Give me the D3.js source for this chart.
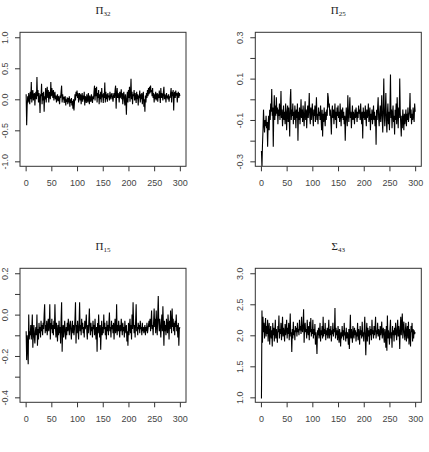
<!DOCTYPE html>
<html>
<head>
<meta charset="utf-8">
<script src="https://cdn.jsdelivr.net/npm/d3@7"></script>
<style>
  body { margin: 0; background: #fff; }
  .trace text { font-family: "Liberation Sans", Arial, sans-serif; font-size: 9px; fill: #444; }
  .trace .tick line { stroke: #333; }
  .title { font-family: "Liberation Serif", "Times New Roman", serif; fill: #222; }
</style>
</head>
<body>
<div id="chart"></div>
<script>

//-- Data: MCMC draws, iterations 1..300
var iterations = d3.range(1, 301);

var pi32 = [
  0.08, -0.42, -0.1, 0.05, -0.05, 0.1, 0.02, -0.08, 0.12, 0.0,
  0.28, -0.05, 0.08, 0.15, -0.02, 0.05, 0.1, -0.1, 0.06, 0.12,
  0.0, 0.36, 0.05, 0.15, -0.05, 0.1, 0.02, -0.22, 0.08, 0.05,
  0.25, -0.08, 0.1, -0.02, 0.12, -0.2, 0.05, 0.0, 0.18, -0.05,
  0.1, 0.2, 0.02, 0.15, -0.05, 0.12, 0.08, 0.0, 0.28, 0.05,
  0.18, 0.1, 0.02, 0.15, -0.02, 0.08, 0.12, 0.0, 0.06, -0.05,
  0.03, 0.08, -0.03, 0.05, 0.0, -0.08, 0.06, 0.02, 0.12, 0.22,
  -0.05, 0.08, 0.0, 0.04, -0.06, 0.02, 0.05, -0.1, 0.0, -0.04,
  0.03, -0.08, 0.02, -0.05, 0.05, -0.12, 0.0, -0.06, 0.02, -0.1,
  -0.03, -0.15, 0.0, -0.18, -0.05, 0.08, -0.02, 0.12, 0.05, 0.14,
  0.02, 0.1, -0.05, 0.06, 0.1, -0.02, 0.08, -0.08, 0.04, 0.1,
  -0.04, 0.06, 0.0, 0.12, -0.1, 0.05, 0.02, -0.06, 0.08, 0.0,
  -0.05, 0.1, 0.02, -0.08, 0.06, 0.0, -0.04, 0.08, 0.02, -0.06,
  0.05, 0.0, 0.12, 0.22, -0.02, 0.18, 0.05, 0.2, -0.05, 0.1,
  0.02, 0.15, -0.08, 0.08, 0.0, 0.12, -0.05, 0.18, 0.03, 0.08,
  -0.06, 0.1, 0.02, 0.27, -0.05, 0.12, 0.0, 0.08, -0.04, 0.1,
  0.03, 0.06, -0.02, 0.12, 0.05, 0.0, 0.08, 0.1, 0.02, -0.04,
  0.06, 0.1, 0.02, 0.15, 0.22, -0.15, 0.08, 0.18, 0.02, 0.1,
  0.05, -0.05, 0.12, 0.02, 0.08, 0.16, 0.0, 0.1, -0.08, 0.06,
  0.12, 0.0, -0.1, 0.08, -0.02, -0.25, 0.05, 0.12, -0.05, 0.15,
  0.02, 0.2, -0.04, 0.1, 0.33, 0.0, 0.12, -0.08, 0.08, 0.05,
  0.15, -0.02, 0.1, 0.04, -0.06, 0.12, 0.0, 0.08, -0.1, 0.06,
  0.02, 0.14, -0.05, 0.08, 0.0, 0.1, -0.08, 0.05, 0.12, -0.12,
  0.0, -0.2, 0.06, -0.05, 0.1, 0.02, 0.15, 0.05, 0.18, 0.08,
  0.2, 0.1, 0.22, 0.12, 0.15, 0.05, 0.18, 0.02, 0.1, -0.05,
  0.08, 0.0, 0.12, -0.02, 0.06, 0.1, -0.04, 0.08, 0.02, 0.14,
  0.05, -0.06, 0.18, 0.02, 0.1, 0.06, -0.02, 0.12, 0.2, 0.0,
  0.08, 0.04, -0.05, 0.1, 0.02, 0.06, 0.0, 0.08, -0.04, 0.05,
  0.02, 0.1, 0.18, -0.05, 0.12, 0.05, 0.15, -0.18, 0.08, 0.12,
  0.02, 0.14, 0.06, 0.1, -0.05, 0.08, 0.12, 0.02, 0.1, 0.05
];

var pi25 = [
  -0.25, -0.33, -0.22, -0.15, -0.05, -0.12, -0.16, -0.1, -0.13, -0.08,
  -0.14, -0.11, -0.23, -0.12, -0.08, -0.15, -0.05, -0.1, -0.02, -0.06,
  0.05, -0.08, -0.04, -0.23, -0.06, 0.02, -0.1, -0.03, -0.08, 0.01,
  -0.07, -0.04, -0.12, -0.05, -0.08, -0.02, -0.1, -0.06, 0.04, -0.09,
  -0.05, -0.13, -0.08, -0.03, -0.1, -0.06, -0.12, -0.02, -0.07, -0.15,
  -0.06, -0.03, -0.11, -0.04, -0.09, -0.18, 0.0, 0.05, -0.1, -0.05,
  -0.08, -0.02, -0.12, -0.06, -0.1, -0.03, -0.07, -0.14, -0.05, -0.09,
  -0.02, -0.2, -0.06, -0.1, -0.04, -0.12, -0.07, 0.0, -0.09, -0.05,
  -0.11, -0.03, -0.08, -0.13, -0.06, -0.01, -0.1, -0.05, -0.14, -0.07,
  -0.03, -0.09, -0.05, 0.03, -0.08, -0.12, -0.04, -0.1, -0.06, -0.02,
  -0.09, -0.13, -0.05, -0.08, -0.03, -0.11, -0.06, 0.01, -0.1, -0.07,
  -0.12, -0.04, -0.08, -0.06, -0.1, -0.03, -0.09, -0.15, -0.05, -0.18,
  -0.07, -0.11, -0.04, -0.09, -0.13, -0.06, -0.1, -0.05, -0.08, 0.03,
  0.01, -0.04, -0.02, -0.08, -0.05, -0.1, -0.17, -0.06, -0.03, -0.09,
  -0.05, -0.12, -0.07, -0.02, -0.1, -0.06, -0.14, -0.04, -0.08, -0.03,
  -0.09, -0.06, -0.11, -0.02, -0.07, -0.13, -0.05, -0.09, -0.04, -0.1,
  -0.06, -0.12, -0.08, -0.2, -0.1, -0.04, -0.09, -0.13, 0.02, -0.07,
  -0.11, -0.05, 0.01, -0.09, -0.06, -0.14, -0.08, -0.03, -0.1, -0.06,
  -0.08, -0.12, -0.05, -0.09, -0.04, -0.07, -0.11, -0.06, -0.09, -0.03,
  -0.07, -0.05, -0.1, -0.02, -0.08, -0.12, -0.06, -0.19, -0.04, -0.09,
  -0.06, -0.1, -0.03, -0.08, -0.13, -0.05, -0.09, -0.07, -0.02, -0.11,
  -0.08, -0.04, -0.15, -0.07, -0.1, -0.05, -0.12, -0.08, -0.03, -0.1,
  -0.06, -0.13, -0.08, -0.22, -0.05, -0.1, -0.04, 0.01, -0.09, -0.13,
  -0.07, -0.03, -0.11, -0.06, 0.02, -0.1, -0.16, -0.04, 0.1, -0.08,
  -0.13, -0.05, 0.03, -0.1, -0.16, -0.07, -0.02, -0.12, -0.06, -0.15,
  -0.04, 0.12, -0.09, -0.05, -0.14, -0.07, -0.03, -0.11, -0.08, -0.17,
  -0.05, -0.1, -0.02, -0.12, 0.01, -0.07, -0.14, -0.04, -0.09, 0.1,
  -0.06, -0.12, -0.18, -0.08, -0.14, -0.05, -0.1, -0.15, -0.07, -0.12,
  -0.09, -0.05, -0.13, -0.07, -0.1, -0.04, -0.11, -0.08, -0.06, 0.03,
  -0.09, -0.05, -0.12, -0.07, -0.1, -0.04, -0.08, -0.11, -0.02, -0.06
];

var pi15 = [
  -0.08, -0.22, -0.1, -0.15, -0.24, 0.0, -0.12, -0.08, -0.1, -0.05,
  -0.12, -0.07, 0.0, -0.16, -0.09, -0.05, -0.11, -0.14, -0.08, -0.06,
  -0.1, 0.0, -0.15, -0.07, -0.12, -0.04, -0.09, -0.06, -0.11, -0.03,
  -0.08, -0.05, -0.1, -0.04, -0.07, 0.0, 0.05, -0.09, -0.05, -0.08,
  -0.03, -0.1, -0.06, -0.02, -0.08, -0.05, 0.05, -0.12, -0.04, -0.07,
  -0.02, -0.09, -0.05, -0.1, -0.03, -0.07, 0.05, -0.06, -0.11, -0.04,
  -0.08, -0.13, -0.05, -0.1, -0.03, -0.09, -0.06, -0.14, -0.02, 0.06,
  -0.18, -0.08, -0.05, -0.11, -0.07, -0.03, -0.09, -0.12, -0.06, -0.1,
  -0.04, -0.08, -0.02, -0.06, -0.1, -0.05, -0.03, -0.08, -0.12, -0.06,
  -0.03, -0.09, -0.05, -0.1, -0.07, -0.02, 0.06, -0.14, -0.05, -0.09,
  -0.03, -0.07, -0.12, -0.04, 0.06, -0.08, -0.05, -0.1, -0.02, -0.07,
  -0.04, -0.09, -0.06, -0.11, -0.03, -0.07, -0.05, 0.0, -0.08, -0.12,
  -0.05, -0.09, -0.03, 0.03, -0.07, -0.1, -0.04, -0.08, -0.06, -0.11,
  -0.03, -0.07, -0.05, -0.1, -0.02, -0.08, -0.12, -0.06, -0.18, -0.04,
  -0.09, 0.0, -0.07, -0.11, -0.05, -0.17, -0.08, -0.03, -0.1, -0.06,
  -0.09, 0.0, -0.07, -0.04, -0.1, -0.06, -0.12, -0.03, -0.08, -0.05,
  -0.1, -0.04, 0.01, -0.08, -0.06, -0.11, -0.03, -0.07, -0.05, -0.09,
  -0.04, -0.12, -0.06, -0.02, -0.09, -0.07, 0.05, -0.1, -0.05, -0.08,
  -0.03, -0.07, -0.11, -0.05, -0.08, -0.02, -0.06, -0.1, -0.04, -0.08,
  -0.06, -0.11, -0.03, -0.07, -0.09, -0.05, -0.13, -0.08, -0.15, -0.04,
  -0.1, -0.06, -0.02, -0.09, -0.05, -0.12, 0.0, -0.07, 0.06, -0.04,
  -0.09, -0.05, -0.11, -0.03, 0.05, -0.08, -0.06, -0.1, -0.04, -0.07,
  -0.05, -0.09, -0.03, -0.07, -0.06, -0.1, -0.04, -0.08, -0.06, -0.09,
  -0.07, -0.05, -0.1, -0.06, -0.08, -0.04, -0.09, -0.07, -0.05, -0.03,
  -0.06, -0.02, -0.08, -0.04, 0.02, -0.07, -0.05, -0.1, -0.03, 0.03,
  -0.06, -0.02, -0.09, 0.02, -0.05, -0.1, 0.0, 0.09, -0.04, -0.08,
  -0.02, -0.07, -0.11, -0.04, 0.0, -0.08, 0.04, -0.05, -0.15, -0.03,
  -0.08, -0.05, -0.1, -0.02, -0.06, -0.09, 0.0, -0.05, -0.12, -0.03,
  -0.07, 0.02, -0.04, -0.09, 0.03, -0.06, -0.02, -0.08, -0.04, -0.1,
  -0.03, -0.06, 0.0, -0.08, -0.05, -0.11, -0.04, -0.15, -0.07, -0.06
];

var sigma43 = [
  0.98, 2.4, 1.88, 2.3, 2.05, 2.2, 1.95, 2.1, 2.28, 1.98,
  2.15, 2.02, 2.25, 1.9, 2.1, 2.2, 1.85, 2.05, 2.15, 1.95,
  2.08, 1.82, 2.2, 2.0, 2.12, 1.9, 2.05, 2.25, 1.95, 2.1,
  2.0, 1.88, 2.15, 2.05, 2.32, 1.95, 2.1, 2.02, 2.2, 1.92,
  2.08, 2.3, 1.98, 2.12, 2.05, 1.9, 2.18, 2.0, 2.1, 2.25,
  1.95, 2.12, 2.02, 2.2, 1.92, 2.08, 2.35, 1.98, 2.05, 1.73,
  2.1, 1.95, 2.22, 2.0, 2.08, 1.92, 2.15, 2.05, 2.12, 1.98,
  2.2, 2.05, 2.1, 2.0, 2.25, 2.08, 2.15, 2.02, 2.3, 2.1,
  2.05, 2.18, 2.42, 1.88, 2.12, 2.2, 2.05, 2.1, 1.95, 2.25,
  2.08, 2.0, 2.15, 1.92, 2.22, 2.05, 2.28, 1.98, 2.1, 2.02,
  2.25, 1.95, 2.1, 2.0, 2.18, 1.85, 2.05, 1.92, 1.7, 2.08,
  2.0, 2.12, 1.95, 2.05, 2.2, 1.9, 2.08, 2.0, 2.15, 1.95,
  2.3, 1.98, 2.1, 2.02, 2.2, 1.92, 2.08, 2.0, 2.12, 1.95,
  2.05, 2.25, 1.95, 2.1, 2.0, 2.15, 1.9, 2.08, 2.02, 2.2,
  1.98, 2.1, 2.05, 2.44, 1.95, 2.12, 2.0, 2.08, 1.92, 2.15,
  2.02, 1.88, 2.1, 2.0, 1.82, 2.05, 1.95, 2.15, 1.98, 2.08,
  1.92, 2.2, 2.0, 2.05, 1.9, 2.12, 1.95, 2.05, 2.0, 1.85,
  2.1, 1.78, 2.05, 2.33, 1.95, 2.1, 2.0, 1.88, 2.15, 2.02,
  1.95, 2.12, 2.0, 2.08, 1.9, 2.05, 1.98, 2.2, 1.92, 2.1,
  2.02, 1.85, 2.15, 2.0, 2.08, 1.95, 2.22, 1.98, 2.05, 1.9,
  2.1, 2.3, 1.95, 1.68, 2.05, 2.2, 1.9, 2.12, 1.98, 2.08,
  1.85, 2.15, 2.0, 2.1, 1.92, 2.25, 2.02, 2.08, 1.95, 2.15,
  2.0, 2.12, 2.3, 1.95, 2.08, 2.02, 2.2, 1.98, 2.1, 2.05,
  1.92, 2.15, 2.0, 2.08, 2.22, 1.95, 2.05, 2.12, 1.98, 1.88,
  2.1, 2.02, 1.8, 2.15, 1.75, 2.32, 1.95, 2.08, 2.0, 1.85,
  2.1, 2.25, 1.95, 2.05, 1.8, 2.15, 2.0, 2.08, 1.9, 2.12,
  2.0, 2.2, 2.05, 1.92, 2.1, 2.25, 1.98, 2.15, 2.05, 1.78,
  2.12, 2.3, 2.0, 2.18, 2.35, 1.95, 2.1, 2.22, 2.02, 1.92,
  2.08, 2.2, 1.9, 2.05, 2.15, 1.95, 2.22, 1.85, 2.1, 2.0,
  1.82, 2.15, 2.05, 2.2, 1.9, 2.1, 1.95, 2.08, 2.02, 2.05
];

//-- Tick values and labels
var xTicks = [0, 50, 100, 150, 200, 250, 300];
var yTicks32 = [-1, -0.5, 0, 0.5, 1];
var yLabels32 = [-1, -0.5, 0, 0.5, 1];
var yTicks25 = [-0.3, -0.2, -0.1, 0, 0.1, 0.2, 0.3];
var yLabels25 = [-0.3, -0.1, 0.1, 0.3];
var yTicks15 = [-0.4, -0.3, -0.2, -0.1, 0, 0.1, 0.2];
var yLabels15 = [-0.4, -0.2, 0, 0.2];
var yTicks43 = [1, 1.5, 2, 2.5, 3];
var yLabels43 = [1, 1.5, 2, 2.5, 3];

//-- Titles: symbol + subscript
var titleSymbols = ["\u03A0", "\u03A0", "\u03A0", "\u03A3"];
var titleSubs = ["32", "25", "15", "43"];

//-- Panel table built from the arrays above
var panels = [
  {values: pi32, ticks: yTicks32, labels: yLabels32, col: 0, row: 0},
  {values: pi25, ticks: yTicks25, labels: yLabels25, col: 1, row: 0},
  {values: pi15, ticks: yTicks15, labels: yLabels15, col: 0, row: 1},
  {values: sigma43, ticks: yTicks43, labels: yLabels43, col: 1, row: 1}
];

//-- Dimension & layout
var totWidth = 429, totHeight = 452;
var width = 166, height = 134;
var colLeft = [20, 255.3];
var rowTop = [32.3, 268.3];

var svg = d3.select("#chart")
  .append("svg")
    .attr("width", totWidth)
    .attr("height", totHeight);

var fmt = function(d) { return d.toFixed(1); };

panels.forEach(function(p, k) {
  var g = svg.append("g")
    .attr("transform", "translate(" + colLeft[p.col] + "," + rowTop[p.row] + ")");

  //-- R style axes: 4% padding around the data range
  var xPad = 0.04 * (iterations[iterations.length - 1] - iterations[0]);
  var x = d3.scaleLinear()
    .domain([iterations[0] - xPad, iterations[iterations.length - 1] + xPad])
    .range([0, width]);

  var lo = d3.min(p.ticks), hi = d3.max(p.ticks);
  var yPad = 0.04 * (hi - lo);
  var y = d3.scaleLinear()
    .domain([lo - yPad, hi + yPad])
    .range([height, 0]);

  //-- Trace clipped to the plot box
  g.append("clipPath")
    .attr("id", "clip" + k)
    .append("rect")
      .attr("width", width)
      .attr("height", height);

  var line = d3.line()
    .x(function(d, i) { return x(iterations[i]); })
    .y(function(d) { return y(d); });

  g.append("path")
    .datum(p.values)
    .attr("clip-path", "url(#clip" + k + ")")
    .attr("fill", "none")
    .attr("stroke", "#000")
    .attr("stroke-width", 1.1)
    .attr("stroke-linejoin", "miter")
    .attr("d", line);

  //-- x axis
  var xAxis = d3.axisBottom(x)
    .tickValues(xTicks)
    .tickSize(5)
    .tickPadding(8)
    .tickFormat(function(d) { return d; });

  var xg = g.append("g")
    .attr("class", "trace")
    .attr("transform", "translate(0," + height + ")")
    .call(xAxis);
  xg.select(".domain").remove();

  //-- y axis, rotated labels
  var yAxis = d3.axisLeft(y)
    .tickValues(p.ticks)
    .tickSize(5)
    .tickFormat(function(d) {
      return p.labels.some(function(v) { return Math.abs(v - d) < 1e-9; }) ? fmt(d) : "";
    });

  var yg = g.append("g")
    .attr("class", "trace")
    .call(yAxis);
  yg.select(".domain").remove();
  yg.selectAll("text")
    .attr("x", 0)
    .attr("dy", 0)
    .attr("text-anchor", "middle")
    .attr("transform", "translate(-12.5,0) rotate(-90)");

  //-- Box
  g.append("rect")
    .attr("width", width)
    .attr("height", height)
    .attr("fill", "none")
    .attr("stroke", "#333")
    .attr("stroke-width", 1);

  //-- Title
  var t = g.append("text")
    .attr("class", "title")
    .attr("x", width / 2)
    .attr("y", -18.5)
    .attr("text-anchor", "middle");
  t.append("tspan")
    .attr("font-size", "11px")
    .text(titleSymbols[k]);
  t.append("tspan")
    .attr("font-size", "7px")
    .attr("dy", 2)
    .text(titleSubs[k]);
});

</script>
</body>
</html>
